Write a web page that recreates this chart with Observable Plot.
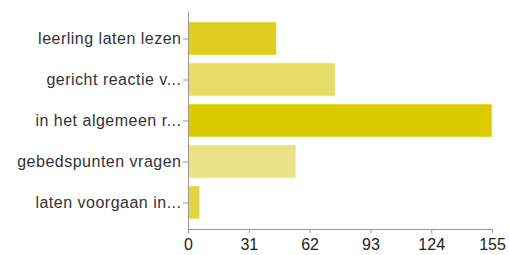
<!DOCTYPE html>
<html>
<head>
<meta charset="utf-8">
<script src="https://cdn.jsdelivr.net/npm/d3@7"></script>
<script src="https://cdn.jsdelivr.net/npm/@observablehq/plot@0.6"></script>
<style>
  html, body { margin: 0; padding: 0; background: #fff; }
  #chart svg { display: block; }
  #chart svg g[aria-label="y-axis tick label"] text { letter-spacing: 0.5px; }
</style>
</head>
<body>
<div id="chart"></div>
<script>
const categories = ["leerling laten lezen", "gericht reactie v...", "in het algemeen r...", "gebedspunten vragen", "laten voorgaan in..."];
const values = [45, 75, 155, 55, 6];
const barColors = ["#dfcd20", "#e7dc66", "#dcca00", "#ebe288", "#e3d443"];
const xTicks = [0, 31, 62, 93, 124, 155];

const data = categories.map((c, i) => ({category: c, value: values[i], color: barColors[i]}));

const chart = Plot.plot({
  width: 509,
  height: 255,
  marginLeft: 188,
  marginRight: 17,
  marginTop: 12,
  marginBottom: 26,
  style: {fontFamily: "'Liberation Sans', Arial, sans-serif", fontSize: "16px", color: "#333", background: "#fff"},
  x: {domain: [0, 155], ticks: xTicks, label: null},
  y: {domain: categories, padding: 0.2, label: null},
  marks: [
    Plot.barX(data, {x: "value", y: "category", fill: "color", stroke: "#fff8c0", strokeWidth: 0.6}),
    Plot.ruleX([0], {stroke: "#999", strokeWidth: 1}),
    Plot.frame({anchor: "bottom", stroke: "#999"}),
    Plot.axisX({ticks: xTicks, tickSize: 4, tickPadding: 5, stroke: "#999", color: "#222", fontSize: 16}),
    Plot.axisY({tickSize: 5, tickPadding: 2, stroke: "#999", color: "#333", fontSize: 16})
  ]
});
document.getElementById("chart").appendChild(chart);
</script>
</body>
</html>
